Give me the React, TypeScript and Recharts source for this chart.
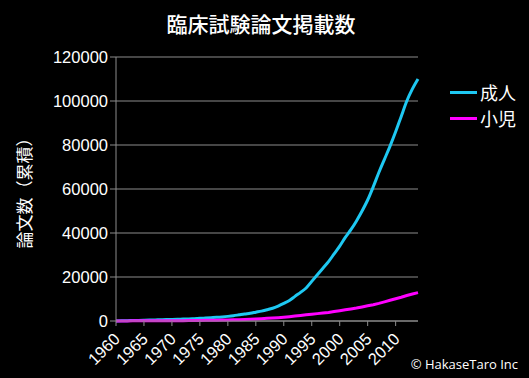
import { LineChart, Line, XAxis, YAxis, CartesianGrid, Legend } from "recharts";

const years = [
  1960, 1961, 1962, 1963, 1964, 1965, 1966, 1967, 1968, 1969,
  1970, 1971, 1972, 1973, 1974, 1975, 1976, 1977, 1978, 1979,
  1980, 1981, 1982, 1983, 1984, 1985, 1986, 1987, 1988, 1989,
  1990, 1991, 1992, 1993, 1994, 1995, 1996, 1997, 1998, 1999,
  2000, 2001, 2002, 2003, 2004, 2005, 2006, 2007, 2008, 2009,
  2010, 2011, 2012, 2013, 2014,
];

// 成人
const adult = [
  50, 100, 150, 200, 280, 350, 420, 500, 570, 640,
  720, 800, 880, 960, 1080, 1200, 1350, 1500, 1650, 1850,
  2100, 2400, 2800, 3200, 3500, 4000, 4500, 5100, 5800, 6800,
  8000, 9300, 11200, 13000, 15000, 18000, 21000, 24000, 27000, 30500,
  34000, 38000, 41500, 45500, 50000, 55000, 61000, 67500, 73500, 79500,
  86000, 93000, 100000, 105500, 110000,
];

// 小児
const child = [
  30, 40, 50, 60, 70, 80, 90, 100, 110, 120,
  130, 150, 170, 190, 220, 250, 290, 330, 370, 410,
  450, 520, 600, 700, 800, 900, 1050, 1200, 1350, 1500,
  1700, 1950, 2250, 2550, 2850, 3100, 3350, 3600, 3900, 4300,
  4700, 5100, 5500, 5900, 6400, 6900, 7400, 8000, 8700, 9400,
  10100, 10800, 11600, 12300, 12900,
];

const seriesNames = ["成人", "小児"];
const xTicks = [1960, 1965, 1970, 1975, 1980, 1985, 1990, 1995, 2000, 2005, 2010];
const yTicks = [0, 20000, 40000, 60000, 80000, 100000, 120000];

const data = years.map((year, i) => ({ year, adult: adult[i], child: child[i] }));

const AXIS = "#8c8c8c";
const CJK = "'Noto Sans CJK JP', sans-serif";
const NUM = "'Liberation Sans', Arial, sans-serif";

function XTick({ x, payload }: any) {
  const tx = x + 5;
  const ty = 340;
  return (
    <text
      x={tx}
      y={ty}
      transform={`rotate(-45, ${tx}, ${ty})`}
      textAnchor="end"
      fill="#fff"
      fontSize={16.5}
      fontFamily={NUM}
    >
      {payload.value}
    </text>
  );
}

function LegendBox({ payload }: any) {
  const items = seriesNames.map((n) => payload.find((p: any) => p.value === n)).filter(Boolean);
  return (
    <div>
      {items.map((p: any) => (
        <div key={p.value} style={{ display: "flex", alignItems: "center", height: 26 }}>
          <div style={{ width: 27, height: 3, background: p.color, marginRight: 3 }} />
          <span style={{ color: "#fff", fontSize: 18, fontFamily: CJK, lineHeight: "26px" }}>{p.value}</span>
        </div>
      ))}
    </div>
  );
}

export default function App() {
  return (
    <div style={{ position: "absolute", left: 0, top: 0, width: 529, height: 378, background: "#000" }}>
      <LineChart width={529} height={378} data={data} margin={{ top: 57, right: 111, bottom: 7, left: 0 }}>
        <CartesianGrid vertical={false} stroke={AXIS} strokeWidth={1} />
        <XAxis
          dataKey="year"
          type="number"
          domain={[1960, 2014]}
          ticks={xTicks}
          interval={0}
          height={50}
          stroke={AXIS}
          tickSize={5}
          tick={<XTick />}
        />
        <YAxis
          domain={[0, 120000]}
          ticks={yTicks}
          interval={0}
          width={116}
          stroke={AXIS}
          tickSize={6}
          tick={{ fill: "#fff", fontSize: 16.5, fontFamily: NUM }}
          label={{
            value: "論文数（累積）",
            angle: -90,
            position: "insideLeft",
            dx: 20,
            fill: "#fff",
            fontSize: 17,
            fontFamily: CJK,
            style: { textAnchor: "middle" },
          }}
        />
        <Legend
          layout="vertical"
          align="center"
          verticalAlign="middle"
          wrapperStyle={{ left: 450, top: 79, width: 80 }}
          content={<LegendBox />}
        />
        <Line
          type="monotone"
          dataKey="adult"
          name="成人"
          stroke="#1ec8f2"
          strokeWidth={3}
          dot={false}
          isAnimationActive={false}
        />
        <Line
          type="linear"
          dataKey="child"
          name="小児"
          stroke="#ff00ff"
          strokeWidth={3}
          dot={false}
          isAnimationActive={false}
        />
        <text x={261} y={32} textAnchor="middle" fill="#fff" fontSize={21} fontWeight={500} fontFamily={CJK}>
          臨床試験論文掲載数
        </text>
        <text x={518} y={369} textAnchor="end" fill="#fff" fontSize={13} fontFamily="'Open Sans', sans-serif">
          © HakaseTaro Inc
        </text>
      </LineChart>
    </div>
  );
}
